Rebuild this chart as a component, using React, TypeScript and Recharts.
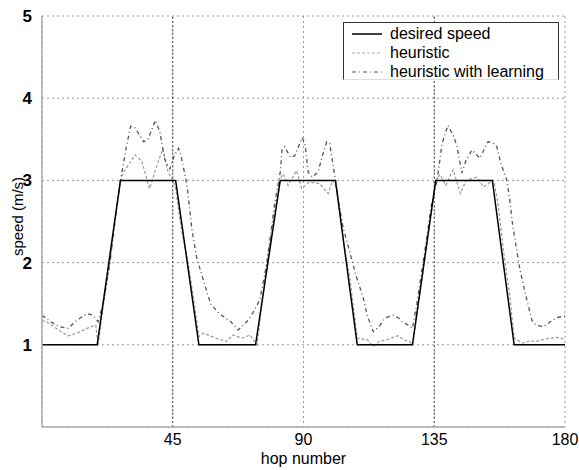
import {
  LineChart, Line, XAxis, YAxis, CartesianGrid, ReferenceLine,
} from "recharts";

const desiredHops = [0, 19, 27, 46, 54, 73.5, 82, 101, 108.5, 127.5, 135.5, 155, 162.5, 180];
const desiredSpeed = [1, 1, 3, 3, 1, 1, 3, 3, 1, 1, 3, 3, 1, 1];

const heurHops = [
  0, 3, 6, 9, 12, 15.5, 18.5, 19.3, 21, 23.4, 25, 27, 28, 30, 32, 34.4, 37, 40, 41.6, 43.4,
  45, 46, 48, 50.3, 52, 54, 55.5, 60, 63.5, 65.7, 68.8, 71.6, 74, 75, 77.4, 80, 82, 83,
  84.7, 87.6, 89.4, 92, 95.6, 98.5, 100, 101.5, 104, 106, 108.5, 112, 114, 116, 118.5,
  122.5, 124.5, 126.5, 127.5, 130, 132, 134, 135.5, 137, 139, 141.5, 144, 146, 149.6,
  152, 154, 155.5, 157, 159, 161, 162.5, 165.5, 168, 170, 173, 175, 178, 180,
];
const heurSpeed = [
  1.3, 1.25, 1.17, 1.11, 1.14, 1.2, 1.24, 1.0, 1.45, 2.0, 2.5, 2.98, 3.1, 3.2, 3.31, 3.23, 2.9, 3.23, 3.38, 3.1,
  3.0, 2.9, 2.4, 2.0, 1.6, 1.1, 1.14, 1.08, 1.04, 1.12, 1.08, 1.12, 1.0, 1.3, 2.0, 2.6, 3.02, 3.08,
  2.94, 3.12, 2.9, 2.98, 2.96, 2.84, 3.0, 2.9, 2.2, 1.8, 1.08, 1.06, 0.98, 1.04, 1.06,
  1.11, 1.06, 1.04, 1.0, 1.6, 2.1, 2.6, 3.0, 3.07, 2.94, 3.13, 2.84, 3.0, 3.04,
  2.92, 2.97, 3.0, 2.7, 2.1, 1.6, 1.08, 1.02, 1.05, 1.04, 1.07, 1.08, 1.09, 1.06,
];

const learnHops = [
  0, 3, 6, 9, 12, 15.5, 17.5, 19.3, 21, 23.4, 25.5, 27, 29, 30.5, 32, 35, 36.5, 39, 40.5, 42.3,
  44, 45.5, 47, 48, 50, 51.6, 53.3, 55, 58, 61, 65, 67.5, 70.5, 72.6, 75, 77.4, 80, 82,
  82.6, 83.5, 85.5, 87, 89.5, 90.5, 91.6, 93, 95, 96.5, 98, 99, 101, 102, 103.6, 105, 108,
  110.5, 112, 114, 116, 117.5, 119, 121, 123, 124, 126, 127.5, 129, 132, 134, 136, 137.7,
  139.7, 141.5, 142.8, 144.5, 146, 148, 150.7, 153.5, 155, 156.5, 158, 160, 161, 162,
  164.5, 166.5, 168.6, 170, 172.5, 175, 177, 180,
];
const learnSpeed = [
  1.36, 1.28, 1.22, 1.2, 1.3, 1.38, 1.36, 1.28, 1.5, 2.0, 2.6, 3.0, 3.4, 3.66, 3.64, 3.47, 3.5, 3.73, 3.6, 3.25,
  3.14, 3.3, 3.39, 3.28, 2.92, 2.4, 2.05, 1.85, 1.5, 1.38, 1.28, 1.18, 1.28, 1.39, 1.55, 2.0, 2.7, 3.1,
  3.37, 3.41, 3.28, 3.3, 3.52, 3.45, 3.1, 3.04, 3.1, 3.3, 3.47, 3.45, 3.0, 2.76, 2.43, 2.25, 1.85,
  1.58, 1.35, 1.16, 1.22, 1.3, 1.34, 1.36, 1.32, 1.28, 1.24, 1.2, 1.5, 2.2, 2.7, 3.0, 3.45,
  3.67, 3.55, 3.42, 3.09, 3.25, 3.37, 3.27, 3.47, 3.46, 3.41, 3.2, 3.0, 2.76, 2.45,
  1.91, 1.6, 1.3, 1.24, 1.22, 1.28, 1.33, 1.35,
];

const xTicks = [45, 90, 135, 180];
const yTicks = [1, 2, 3, 4, 5];

const toRows = (hops: number[], vals: number[]) => hops.map((hop, i) => ({ hop, v: vals[i] }));
const desired = toRows(desiredHops, desiredSpeed);
const heuristic = toRows(heurHops, heurSpeed);
const learning = toRows(learnHops, learnSpeed);

const font = "'Liberation Sans', Arial, sans-serif";

const legendItems = [
  { label: "desired speed", color: "#000", dash: undefined as string | undefined, w: 1.5 },
  { label: "heuristic", color: "#aaa", dash: "3 2", w: 1 },
  { label: "heuristic with learning", color: "#555", dash: "4 3 1 3", w: 1.2 },
];

function LegendBox() {
  return (
    <div style={{
      position: "absolute", left: 343, top: 22, width: 216, height: 58, boxSizing: "border-box",
      border: "1px solid #333", borderBottom: "1px solid #ddd", background: "#fff",
      padding: "1px 0 0 8px", fontFamily: font, fontSize: 16, lineHeight: "19px", color: "#000",
    }}>
      {legendItems.map((it) => (
        <div key={it.label} style={{ display: "flex", alignItems: "center", whiteSpace: "nowrap" }}>
          <svg width={30} height={10} style={{ marginRight: 8 }}>
            <line x1={0} y1={5} x2={30} y2={5} stroke={it.color} strokeWidth={it.w} strokeDasharray={it.dash} />
          </svg>
          <span>{it.label}</span>
        </div>
      ))}
    </div>
  );
}

// rotated y-axis title, a little above the plot's middle like the original
const YTitle = ({ viewBox }: any) => {
  const cx = 17;
  const cy = viewBox.y + viewBox.height / 2 - 5;
  return (
    <text x={cx} y={cy} transform={`rotate(-90 ${cx} ${cy})`} textAnchor="middle" dominantBaseline="central"
      fontSize={15} fill="#000" fontFamily={font}>
      speed (m/s)
    </text>
  );
};

export default function App() {
  return (
    <div style={{ position: "absolute", left: 0, top: 0, width: 579, height: 470, background: "#fff" }}>
      <LineChart width={579} height={470} margin={{ top: 16, right: 14, bottom: 0, left: 12 }}>
        <CartesianGrid stroke="#999" strokeDasharray="2 3" />
        <XAxis
          type="number" dataKey="hop" domain={[0, 180]} ticks={xTicks} allowDataOverflow
          axisLine={{ stroke: "#aaa", strokeWidth: 1.5 }} tickLine={false}
          tick={{ fontSize: 16, fill: "#000", fontFamily: font }} tickMargin={1} height={43}
          label={{ value: "hop number", position: "insideBottom", offset: 6, fontSize: 16, fill: "#000", fontFamily: font }}
        />
        <YAxis
          type="number" domain={[0, 5]} ticks={yTicks} width={30}
          axisLine={{ stroke: "#aaa", strokeWidth: 1.5 }} tickLine={false}
          tick={{ fontSize: 17, fill: "#000", fontFamily: font, fontWeight: "bold" }} tickMargin={4}
          label={{ content: <YTitle /> }}
        />
        <ReferenceLine x={45} stroke="#555" strokeDasharray="2 2" />
        <ReferenceLine x={135} stroke="#555" strokeDasharray="2 2" />
        <Line data={heuristic} dataKey="v" type="linear" dot={false} stroke="#999" strokeWidth={1.2} strokeDasharray="3 2" isAnimationActive={false} />
        <Line data={learning} dataKey="v" type="linear" dot={false} stroke="#555" strokeWidth={1.3} strokeDasharray="4 3 1 3" isAnimationActive={false} />
        <Line data={desired} dataKey="v" type="linear" dot={false} stroke="#000" strokeWidth={1.5} isAnimationActive={false} />
      </LineChart>
      <LegendBox />
    </div>
  );
}
